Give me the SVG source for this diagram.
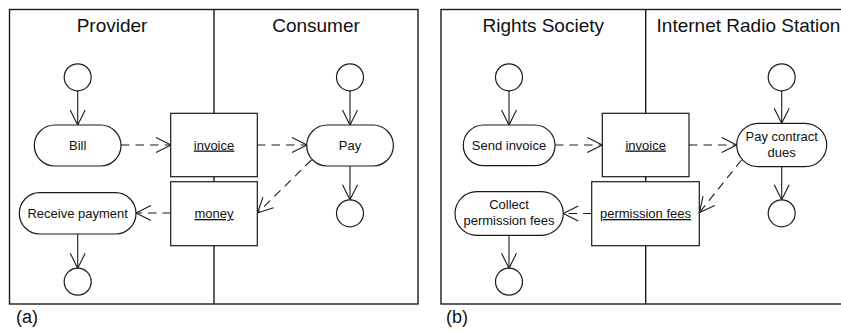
<svg xmlns="http://www.w3.org/2000/svg" width="841" height="331" viewBox="0 0 841 331">
  <defs>
    <marker id="open" markerUnits="userSpaceOnUse" markerWidth="20" markerHeight="20" viewBox="-17 -10 20 20" refX="0" refY="0" orient="auto">
      <path d="M-15,-7.5 L0,0 L-15,7.5" fill="none" stroke="#1a1a1a" stroke-width="1.1"/>
    </marker>
  </defs>
  <style>
    .frame { fill: none; stroke: #1a1a1a; stroke-width: 1.4; }
    .node { fill: #fff; stroke: #1a1a1a; stroke-width: 1.2; }
    .flow { fill: none; stroke: #1a1a1a; stroke-width: 1.1; marker-end: url(#open); }
    .obj { fill: none; stroke: #1a1a1a; stroke-width: 1.1; stroke-dasharray: 8.5 6; marker-end: url(#open); }
    text { font-family: "Liberation Sans", Arial, sans-serif; fill: #111; text-anchor: middle; }
    .lane { font-size: 19px; }
    .lbl { font-size: 13px; }
    .u { text-decoration: underline; }
    .cap { font-size: 18px; text-anchor: start; }
  </style>

  <!-- (a) swimlanes -->
  <g id="lanes-a">
    <rect class="frame" x="9.5" y="9.5" width="408.5" height="294.5"/>
    <line class="frame" x1="214" y1="9.5" x2="214" y2="304"/>
    <text class="lane" x="112" y="32">Provider</text>
    <text class="lane" x="316" y="32">Consumer</text>
    <text class="cap" x="16" y="323">(a)</text>
  </g>

  <!-- (a) connectors -->
  <g id="edges-a">
    <line class="flow" x1="77.7" y1="90.8" x2="77.7" y2="125"/>
    <line class="flow" x1="350" y1="90.8" x2="350" y2="125"/>
    <line class="flow" x1="350" y1="166" x2="350" y2="199.8"/>
    <line class="flow" x1="77.7" y1="234" x2="77.7" y2="268.2"/>
    <line class="obj" x1="121" y1="145" x2="171" y2="145"/>
    <line class="obj" x1="257" y1="145" x2="307" y2="145"/>
    <line class="obj" x1="311.5" y1="160" x2="257.5" y2="213"/>
    <line class="obj" x1="171" y1="213" x2="136" y2="213"/>
  </g>

  <g id="a-start-provider"><circle class="node" cx="77.7" cy="77.3" r="13.5"/></g>
  <g id="a-start-consumer"><circle class="node" cx="350" cy="77.3" r="13.5"/></g>
  <g id="a-end-consumer"><circle class="node" cx="350" cy="213.3" r="13.5"/></g>
  <g id="a-end-provider"><circle class="node" cx="77.7" cy="281.7" r="13.5"/></g>
  <g id="a-bill">
    <rect class="node" x="34.3" y="125" width="86.7" height="41" rx="20.5"/>
    <text class="lbl" x="77.7" y="149.5">Bill</text>
  </g>
  <g id="a-pay">
    <rect class="node" x="306.7" y="125" width="86.7" height="41" rx="20.5"/>
    <text class="lbl" x="350" y="149.5">Pay</text>
  </g>
  <g id="a-receive">
    <rect class="node" x="19.3" y="192.7" width="116.7" height="41.3" rx="20.6"/>
    <text class="lbl" x="77.7" y="218">Receive payment</text>
  </g>
  <g id="a-invoice">
    <rect class="node" x="170.7" y="113.3" width="86.6" height="63.4"/>
    <text class="lbl u" x="214" y="149.5">invoice</text>
  </g>
  <g id="a-money">
    <rect class="node" x="170.7" y="181.7" width="86.6" height="64"/>
    <text class="lbl u" x="214" y="218">money</text>
  </g>

  <!-- (b) swimlanes -->
  <g id="lanes-b">
    <rect class="frame" x="441" y="9.5" width="420" height="294.5"/>
    <line class="frame" x1="645.7" y1="9.5" x2="645.7" y2="304"/>
    <text class="lane" x="543.3" y="32">Rights Society</text>
    <text class="lane" x="748.5" y="32">Internet Radio Station</text>
    <text class="cap" x="446" y="323">(b)</text>
  </g>

  <!-- (b) connectors -->
  <g id="edges-b">
    <line class="flow" x1="509" y1="90.8" x2="509" y2="125"/>
    <line class="flow" x1="781.7" y1="90.8" x2="781.7" y2="123.3"/>
    <line class="flow" x1="781.7" y1="166.7" x2="781.7" y2="199.8"/>
    <line class="flow" x1="509" y1="235.3" x2="509" y2="268.2"/>
    <line class="obj" x1="555" y1="145" x2="602.3" y2="145"/>
    <line class="obj" x1="689" y1="145" x2="736.7" y2="145"/>
    <line class="obj" x1="741.5" y1="160" x2="699.5" y2="212.5"/>
    <line class="obj" x1="591.7" y1="213.5" x2="563.3" y2="213.5"/>
  </g>

  <g id="b-start-society"><circle class="node" cx="509" cy="77.3" r="13.5"/></g>
  <g id="b-start-station"><circle class="node" cx="781.7" cy="77.3" r="13.5"/></g>
  <g id="b-end-station"><circle class="node" cx="781.7" cy="213.3" r="13.5"/></g>
  <g id="b-end-society"><circle class="node" cx="509" cy="281.7" r="13.5"/></g>
  <g id="b-send">
    <rect class="node" x="463.3" y="125" width="91.7" height="40.7" rx="20.3"/>
    <text class="lbl" x="509" y="149.5">Send invoice</text>
  </g>
  <g id="b-pay">
    <rect class="node" x="736.7" y="123.3" width="90" height="43.4" rx="21.7"/>
    <text class="lbl" x="781.7" y="141">Pay contract</text>
    <text class="lbl" x="781.7" y="156.5">dues</text>
  </g>
  <g id="b-collect">
    <rect class="node" x="455" y="191.7" width="108.3" height="43.6" rx="21.8"/>
    <text class="lbl" x="509" y="209">Collect</text>
    <text class="lbl" x="509" y="224.5">permission fees</text>
  </g>
  <g id="b-invoice">
    <rect class="node" x="602.3" y="113.3" width="86.7" height="63.4"/>
    <text class="lbl u" x="645.7" y="149.5">invoice</text>
  </g>
  <g id="b-fees">
    <rect class="node" x="591.7" y="181.7" width="107.6" height="64"/>
    <text class="lbl u" x="645.5" y="218">permission fees</text>
  </g>
</svg>
